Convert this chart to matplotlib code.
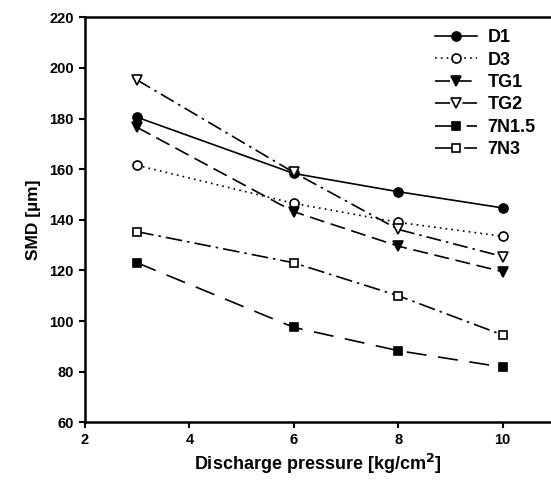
import matplotlib
matplotlib.use("Agg")
import matplotlib.pyplot as plt

plt.rcParams['font.family'] = ['Liberation Sans', 'DejaVu Sans']
plt.rcParams['font.weight'] = 'bold'

pressure = [3, 6, 8, 10]
D1 = [180.5, 158.3, 151.1, 144.7]
D3 = [161.5, 146.5, 139.0, 133.5]
TG1 = [176.5, 143.2, 129.6, 119.5]
TG2 = [195.2, 158.7, 136.2, 125.5]
N7_15 = [123.0, 97.5, 88.3, 81.8]
N7_3 = [135.3, 123.0, 110.0, 94.5]
x_ticks = [2, 4, 6, 8, 10]
y_ticks = [60, 80, 100, 120, 140, 160, 180, 200, 220]

series = [
    ("D1", D1, dict(linestyle='-', marker='o', mfc='black')),
    ("D3", D3, dict(linestyle=(0, (1, 2.5)), marker='o', mfc='white')),
    ("TG1", TG1, dict(linestyle=(0, (9, 4)), marker='v', mfc='black')),
    ("TG2", TG2, dict(linestyle=(0, (9, 3, 1.5, 3)), marker='v', mfc='white')),
    ("7N1.5", N7_15, dict(linestyle=(0, (12, 7)), marker='s', mfc='black')),
    ("7N3", N7_3, dict(linestyle=(0, (10, 3, 1.5, 3)), marker='s', mfc='white')),
]

fig = plt.figure(figsize=(5.51, 4.82), dpi=100)
ax = fig.add_axes([85/551, 1-422.3/482, (551-85)/551, (422.3-17.3)/482])

for label, vals, st in series:
    ms = 6.5 if st['marker'] in ('o', 'v') else 5.5
    ax.plot(pressure, vals, color='black', lw=1.2, markersize=ms,
            mec='black', mew=1.2, label=label, **st)

ax.set_xlim(2, 2 + (551-85)/52.2)
ax.set_ylim(60, 220)
ax.set_xticks(x_ticks, [str(v) for v in x_ticks], fontweight='heavy', fontsize=10.5)
ax.set_yticks(y_ticks, [str(v) for v in y_ticks], fontweight='heavy', fontsize=10.5)
ax.tick_params(direction='out', length=4, width=1.5, pad=4)
for s in ['left', 'bottom', 'top']:
    ax.spines[s].set_linewidth(1.8)
ax.spines['right'].set_visible(False)

ax.set_xlabel('Discharge pressure [kg/cm$^\\mathbf{2}$]', fontsize=13, fontweight='bold', labelpad=3)
ax.set_ylabel('SMD [µm]', fontsize=12.5, fontweight='bold', labelpad=6)

leg = ax.legend(loc='upper left', bbox_to_anchor=((428-85)/466, 1-(22-17.3)/405),
                frameon=False, fontsize=13, handlelength=2.3, handletextpad=0.6,
                labelspacing=0.3, borderaxespad=0)
for t in leg.get_texts():
    t.set_fontweight('bold')

fig.savefig('out.png', dpi=100)
